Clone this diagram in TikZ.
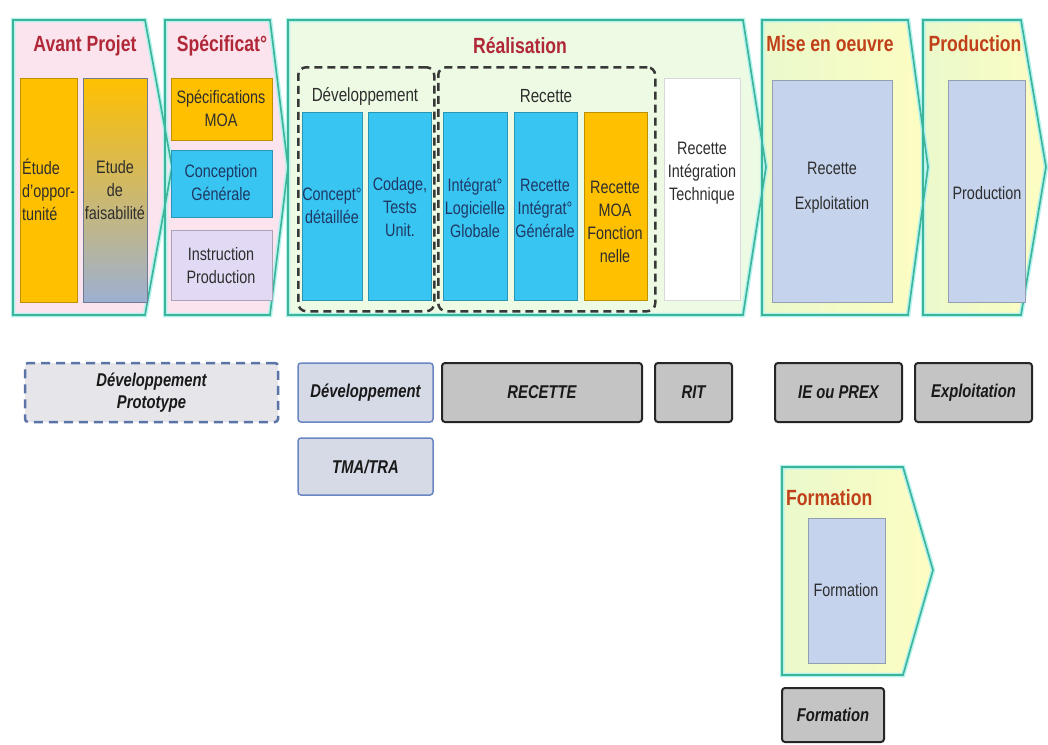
\documentclass[tikz,border=0pt]{standalone}
\usepackage{fontspec}
\setmainfont{Liberation Sans}[FakeStretch=0.8]
\definecolor{gold}{HTML}{FFC000}
\definecolor{sky}{HTML}{38C5F2}
\definecolor{lav}{HTML}{E2DAF5}
\definecolor{steel}{HTML}{C5D3EC}
\definecolor{fadeblue}{HTML}{9DB0D2}
\definecolor{tan}{HTML}{D2BC86}
\definecolor{pinkfill}{HTML}{FBE4EE}
\definecolor{mintfill}{HTML}{EDFBE4}
\definecolor{yelfill}{HTML}{FDFDC2}
\definecolor{greenish}{HTML}{EAF9CC}
\definecolor{rim}{HTML}{3CB497}
\definecolor{rimglow}{HTML}{B4F2F0}
\definecolor{phasered}{HTML}{B02838}
\definecolor{phaseorange}{HTML}{C0401A}
\definecolor{ink}{HTML}{2E2E2E}
\definecolor{navy}{HTML}{1F3864}
\definecolor{greybox}{HTML}{C4C4C4}
\definecolor{devfill}{HTML}{D6DAE6}
\definecolor{devrim}{HTML}{6A86C2}
\definecolor{protofill}{HTML}{E6E6EA}
\definecolor{protorim}{HTML}{5A74A8}
\tikzset{
  rimglowline/.style={draw=rimglow, line width=4.5pt, line join=miter},
  rimline/.style={draw=rim, line width=1.6pt, line join=miter},
  ttl/.style={font=\bfseries\fontsize{22}{24}\selectfont, inner sep=0},
  txt/.style={font=\fontsize{18}{23}\selectfont, align=center, inner sep=0, text=ink},
  box/.style={fill=#1, draw=#1!75!black, line width=0.6pt, inner sep=0, anchor=north west},
  dashbox/.style={draw=black!78, line width=2.5pt, dash pattern=on 8pt off 5pt,
    rounded corners=8pt, inner sep=0, anchor=north west},
  tag/.style={font=\bfseries\itshape\fontsize{18.5}{22}\selectfont, align=center,
    text=black!90, inner sep=0, rounded corners=3pt},
  greytag/.style={tag, fill=greybox, draw=black!85, line width=2pt},
  devtag/.style={tag, fill=devfill, draw=devrim, line width=1.5pt},
  prototag/.style={tag, fill=protofill, draw=protorim, line width=2.5pt,
    dash pattern=on 9pt off 6pt},
}
\begin{document}
\begin{tikzpicture}[x=1pt,y=-1pt]
\useasboundingbox[fill=white] (0,0) rectangle (1048,744);

% phase chevrons: fills first, outlines on top
\fill[pinkfill] (13,20) -- (145,20) -- (172,167) -- (145,315) -- (13,315) -- cycle;
\fill[pinkfill] (165,20) -- (270,20) -- (288,167) -- (270,315) -- (165,315) -- cycle;
\fill[mintfill] (288,20) -- (743,20) -- (766,167) -- (743,315) -- (288,315) -- cycle;
\shade[left color=greenish, right color=yelfill] (762,20) -- (908,20) -- (928,167) -- (908,315) -- (762,315) -- cycle;
\shade[left color=greenish, right color=yelfill] (923,20) -- (1021,20) -- (1046,167) -- (1021,315) -- (923,315) -- cycle;
\shade[left color=greenish, right color=yelfill] (782,467) -- (903,467) -- (933,570) -- (903,675) -- (782,675) -- cycle;

\foreach \s in {rimglowline, rimline} {
  \draw[\s] (13,20) -- (145,20) -- (172,167) -- (145,315) -- (13,315) -- cycle;
  \draw[\s] (165,20) -- (270,20) -- (288,167) -- (270,315) -- (165,315) -- cycle;
  \draw[\s] (288,20) -- (743,20) -- (766,167) -- (743,315) -- (288,315) -- cycle;
  \draw[\s] (762,20) -- (908,20) -- (928,167) -- (908,315) -- (762,315) -- cycle;
  \draw[\s] (923,20) -- (1021,20) -- (1046,167) -- (1021,315) -- (923,315) -- cycle;
  \draw[\s] (782,467) -- (903,467) -- (933,570) -- (903,675) -- (782,675) -- cycle;
}

% phase titles
\node[ttl, text=phasered] (tavant) at (85,46) {Avant Projet};
\node[ttl, text=phasered] (tspec) at (222,46) {Spécificat°};
\node[ttl, text=phasered] (treal) at (520,46) {Réalisation};
\node[ttl, text=phaseorange] (tmise) at (830,44) {Mise en oeuvre};
\node[ttl, text=phaseorange] (tprod) at (975,44) {Production};
\node[ttl, text=phaseorange, anchor=west] (tform) at (786,498) {Formation};

% Avant Projet
\node[box=gold, minimum width=57, minimum height=224] (opp) at (20,78) {};
\node[txt, align=left, anchor=west] (oppt) at (22,190) {Étude\\d'oppor-\\tunité};
\node[anchor=north west, inner sep=0, minimum width=64, minimum height=224,
      top color=gold, middle color=tan, bottom color=fadeblue,
      draw=fadeblue!70!black, line width=0.6pt] (fais) at (83,78) {};
\node[txt] (faist) at (115,190) {Etude\\de\\faisabilité};

% Spécification
\node[box=gold, minimum width=101, minimum height=62] (smoa) at (171,78) {};
\node[txt] (smoat) at (221,108) {Spécifications\\MOA};
\node[box=sky, minimum width=101, minimum height=67] (cgen) at (171,150) {};
\node[txt, text=navy] (cgent) at (221,183) {Conception\\Générale};
\node[box=lav, minimum width=101, minimum height=70] (iprod) at (171,230) {};
\node[txt] (iprodt) at (221,266) {Instruction\\Production};

% Réalisation
\node[dashbox, minimum width=136, minimum height=244] (devzone) at (297,66) {};
\node[dashbox, minimum width=217, minimum height=244] (reczone) at (437,66) {};
\node[txt, font=\fontsize{19}{23}\selectfont] (devzonet) at (365,96) {Développement};
\node[txt, font=\fontsize{19}{23}\selectfont] (reczonet) at (546,96) {Recette};

\node[box=sky, minimum width=60, minimum height=188] (cdet) at (302,112) {};
\node[txt, text=navy] (cdett) at (332,206) {Concept°\\détaillée};
\node[box=sky, minimum width=63, minimum height=188] (ctu) at (368,112) {};
\node[txt, text=navy] (ctut) at (400,207) {Codage,\\Tests\\Unit.};
\node[box=sky, minimum width=64, minimum height=188] (ilg) at (443,112) {};
\node[txt, text=navy] (ilgt) at (475,208) {Intégrat°\\Logicielle\\Globale};
\node[box=sky, minimum width=63, minimum height=188] (rig) at (514,112) {};
\node[txt, text=navy] (rigt) at (545,208) {Recette\\Intégrat°\\Générale};
\node[box=gold, minimum width=63, minimum height=188] (rmf) at (584,112) {};
\node[txt] (rmft) at (615,222) {Recette\\MOA\\Fonction\\nelle};
\node[anchor=north west, inner sep=0, fill=white, draw=black!15, line width=0.8pt,
      minimum width=76, minimum height=222] (rint) at (664,78) {};
\node[txt] (rintt) at (702,173) {Recette\\Intégration\\Technique};

% Mise en oeuvre, Production, Formation
\node[box=steel, minimum width=120, minimum height=222] (rexp) at (772,80) {};
\node[txt, font=\fontsize{18}{35}\selectfont] (rexpt) at (832,188) {Recette\\Exploitation};
\node[box=steel, minimum width=77, minimum height=222] (prod) at (948,80) {};
\node[txt] (prodt) at (987,193) {Production};
\node[box=steel, minimum width=77, minimum height=145] (form) at (808,518) {};
\node[txt] (formt) at (846,590) {Formation};

% actors
\node[prototag, minimum width=253, minimum height=59] (proto) at (151.5,392.5) {Développement\\Prototype};
\node[devtag, minimum width=135, minimum height=59] (devt) at (365.5,392.5) {Développement};
\node[devtag, minimum width=135, minimum height=57] (tma) at (365.5,466.5) {TMA/TRA};
\node[greytag, minimum width=200, minimum height=59] (recb) at (542,392.5) {RECETTE};
\node[greytag, minimum width=77, minimum height=59] (ritb) at (693.5,392.5) {RIT};
\node[greytag, minimum width=127, minimum height=59] (ieb) at (838.5,392.5) {IE ou PREX};
\node[greytag, minimum width=117, minimum height=59] (explb) at (973.5,392.5) {Exploitation};
\node[greytag, minimum width=102, minimum height=54] (formb) at (833,715) {Formation};
\end{tikzpicture}
\end{document}
